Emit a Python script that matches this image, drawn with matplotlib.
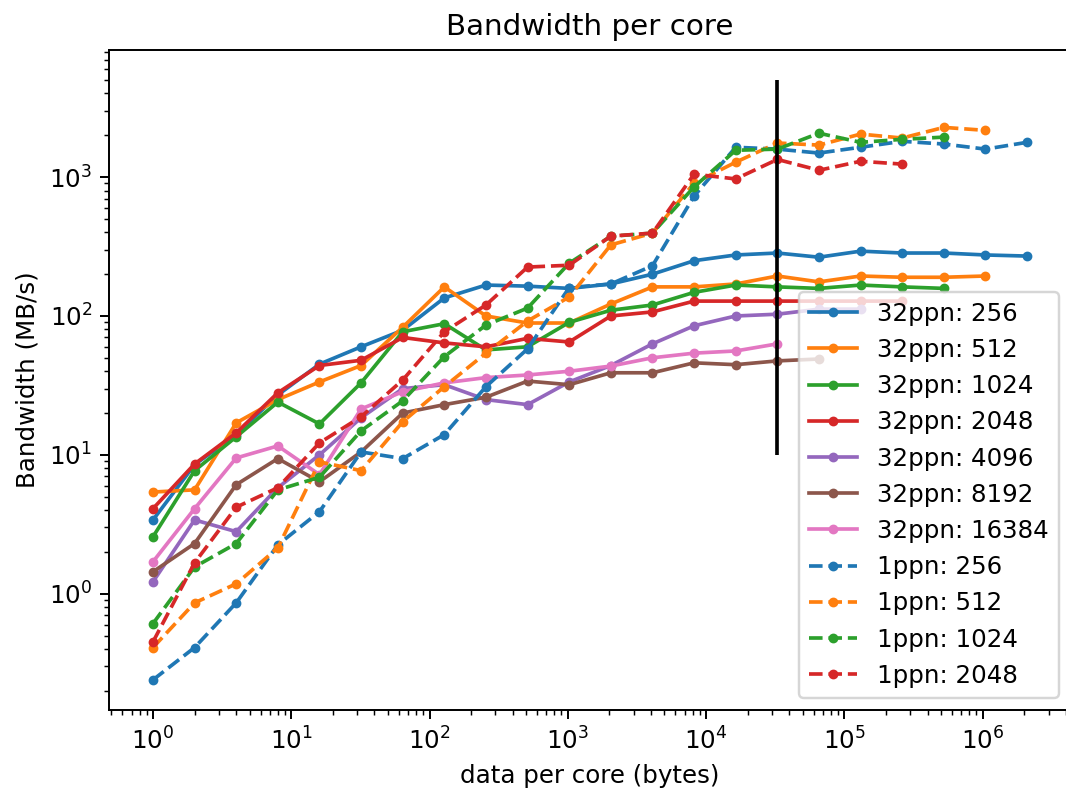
import matplotlib
matplotlib.use('Agg')
import matplotlib.pyplot as plt
import numpy as np

# data per core: powers of two, 1 .. 2^21 bytes
sizes = 2.0 ** np.arange(22)

# 32 processes per node
bw32_256 = [3.4, 8.5, 14, 27, 45, 60, 79, 135, 167, 164, 158, 170, 200, 250,
            275, 284, 265, 293, 284, 284, 275, 270]
bw32_512 = [5.4, 5.6, 17, 25, 33.5, 44, 83, 162, 100, 89, 89, 122, 162, 162,
            170, 194, 176, 194, 190, 190, 194]
bw32_1024 = [2.57, 7.7, 13.5, 24, 16.7, 33, 77, 88, 57, 60, 90, 110, 120, 148,
             167, 162, 158, 167, 162, 158]
bw32_2048 = [4.1, 8.6, 14.4, 28, 44, 48, 70, 64, 60, 69, 65, 100, 107, 128,
             128, 128, 128, 128, 128]
bw32_4096 = [1.22, 3.4, 2.8, 5.8, 10, 18.5, 30, 32, 25, 23, 33.5, 44, 63, 85,
             100, 103, 112, 112]
bw32_8192 = [1.44, 2.3, 6.1, 9.4, 6.4, 10.5, 20, 23, 26, 34, 32, 39, 39, 46,
             44.6, 47.5, 49]
bw32_16384 = [1.7, 4.1, 9.5, 11.6, 7.2, 21.4, 28.5, 33, 36, 37.6, 40, 43.6, 50,
              54, 56, 63]

# 1 process per node
bw1_256 = [0.24, 0.41, 0.86, 2.25, 3.9, 10.5, 9.4, 14, 31, 58, 160, 170, 230,
           730, 1640, 1590, 1490, 1640, 1810, 1730, 1590, 1780]
bw1_512 = [0.41, 0.86, 1.18, 2.14, 8.9, 7.7, 17.3, 31, 54, 92, 137, 325, 395,
           905, 1280, 1760, 1700, 2040, 1910, 2280, 2170]
bw1_1024 = [0.61, 1.56, 2.3, 5.6, 6.9, 14.9, 24.5, 51, 86, 114, 240, 375, 395,
            850, 1560, 1590, 2070, 1780, 1870, 1940]
bw1_2048 = [0.45, 1.67, 4.2, 5.8, 12.2, 18.8, 34.6, 77, 120, 225, 232, 376,
            395, 1050, 970, 1340, 1120, 1300, 1240]

solid = {'32ppn: 256': bw32_256, '32ppn: 512': bw32_512, '32ppn: 1024': bw32_1024,
         '32ppn: 2048': bw32_2048, '32ppn: 4096': bw32_4096, '32ppn: 8192': bw32_8192,
         '32ppn: 16384': bw32_16384}
dashed = {'1ppn: 256': bw1_256, '1ppn: 512': bw1_512, '1ppn: 1024': bw1_1024,
          '1ppn: 2048': bw1_2048}

dpi = 176
fig = plt.figure(figsize=(1066 / dpi, 794 / dpi), dpi=dpi)
# right edge runs just past the picture, as in the original crop
ax = fig.add_axes([0.1025, 0.106, 0.902, 0.831])

colors = plt.rcParams['axes.prop_cycle'].by_key()['color']
for i, (label, vals) in enumerate(solid.items()):
    ax.plot(sizes[:len(vals)], vals, '.-', color=colors[i], label=label)
for i, (label, vals) in enumerate(dashed.items()):
    ax.plot(sizes[:len(vals)], vals, '.--', color=colors[i], label=label)

ax.vlines(2 ** 15, 10, 5000, color='black')

ax.set_xscale('log')
ax.set_yscale('log')
ax.set_xlabel('data per core (bytes)')
ax.set_ylabel('Bandwidth (MB/s)')
ax.set_title('Bandwidth per core')
ax.legend(loc='lower right')

fig.savefig('out.png', dpi=dpi)
